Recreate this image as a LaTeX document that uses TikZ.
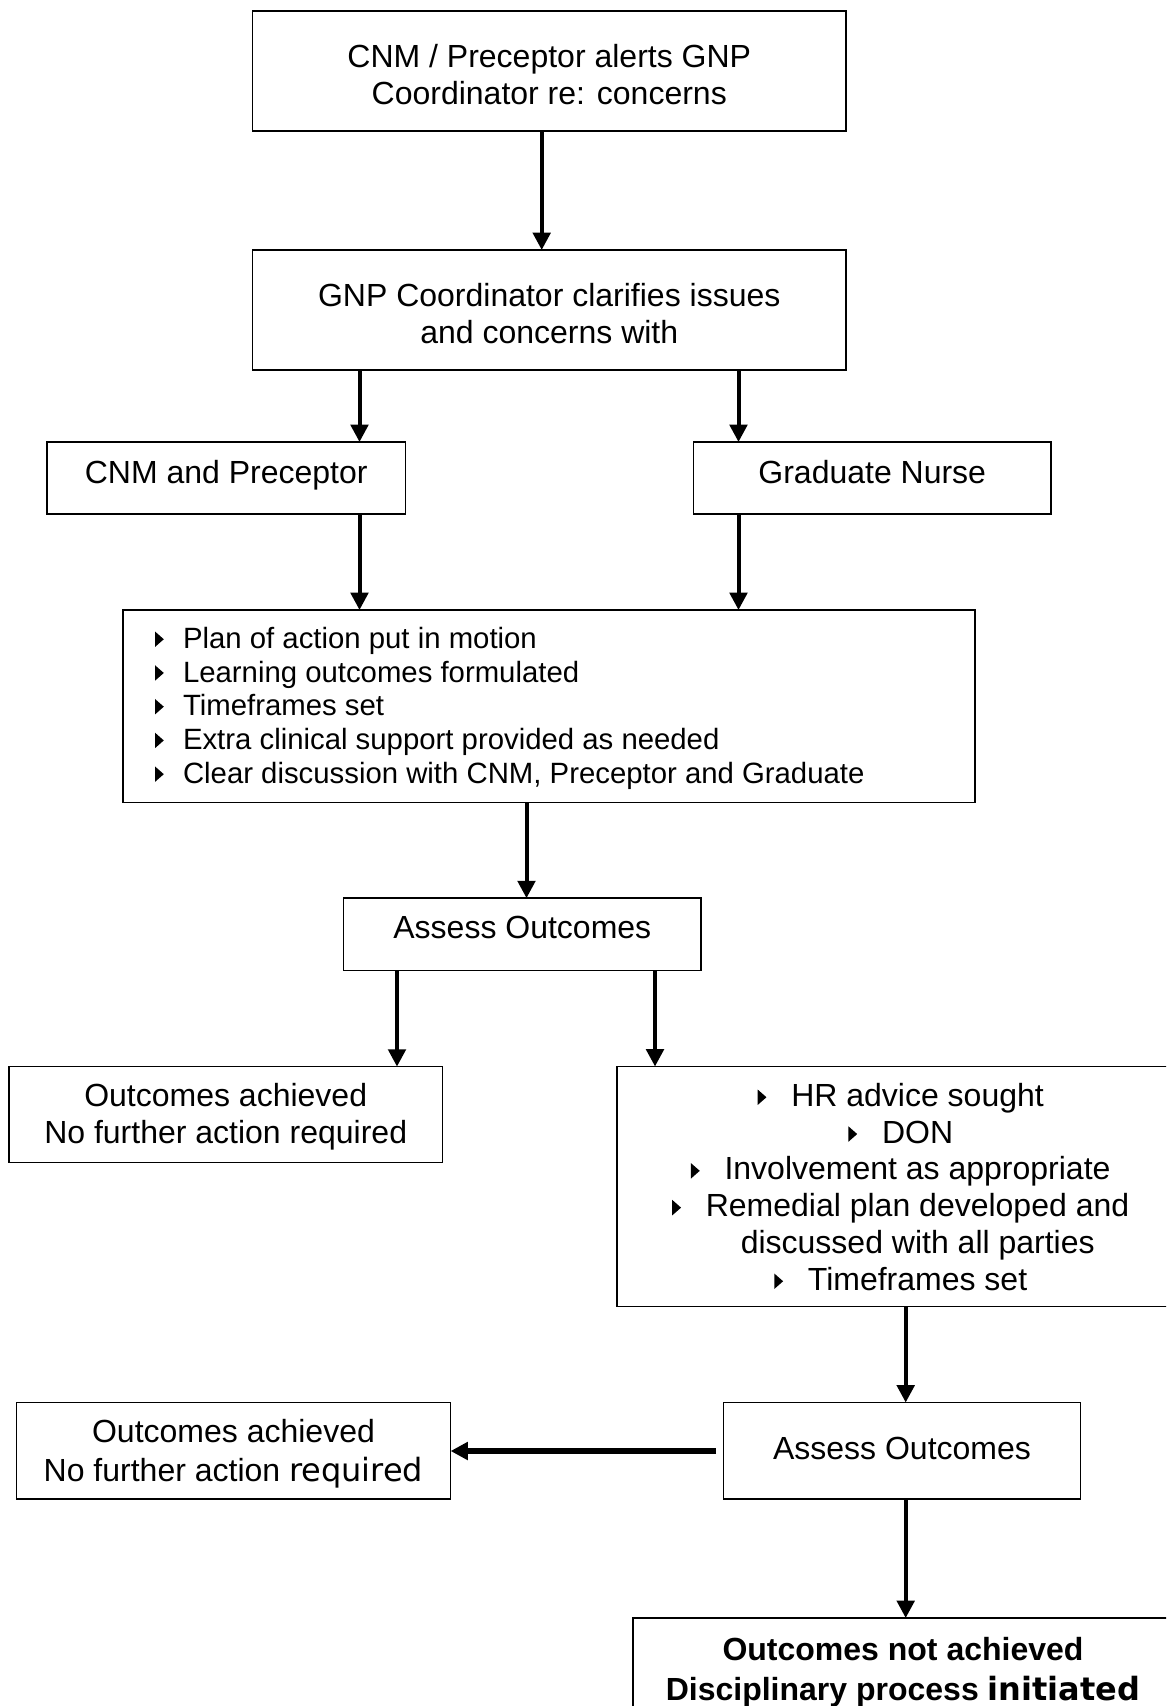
\documentclass[tikz,border=0pt]{standalone}
\usepackage{fontspec}
\setmainfont{Liberation Sans}
\newfontfamily\dvs{DejaVu Sans}
\usetikzlibrary{arrows.meta}
\newcommand\pxu{0.375pt}
\newcommand\tri{\tikz[baseline=0pt]\fill (0pt,0.5pt)--(0pt,6.3pt)--(3.3pt,3.4pt)--cycle;}
\begin{document}
\begin{tikzpicture}[x=0.375pt,y=-0.375pt,
  box/.style={draw,line width=0.5pt,inner sep=0pt,outer sep=0pt,
    font=\fontsize{12}{13.8}\selectfont},
  arr/.style={line width=1.5pt,-{Triangle[length=6.5pt,width=6.5pt]}},
  thickarr/.style={line width=2pt,-{Triangle[length=6.5pt,width=6.5pt]}},
]
\useasboundingbox (0,0) rectangle (1166,1706);
\fill[white] (0,0) rectangle (1166,1706);
\clip (0,0) rectangle (1166,1706);

\node[box,minimum width=593.5*\pxu,minimum height=120*\pxu,
  text height=0pt,text depth=2.55pt] (b1) at (549.25,71)
  {\begin{tabular}[t]{@{}c@{}}CNM / Preceptor alerts GNP\\Coordinator re: concerns\end{tabular}};
\node[box,minimum width=593.5*\pxu,minimum height=120*\pxu,
  text height=0pt,text depth=2.33pt] (b2) at (549.25,310)
  {\begin{tabular}[t]{@{}c@{}}GNP Coordinator clarifies issues\\and concerns with\end{tabular}};
\node[box,minimum width=358.5*\pxu,minimum height=72*\pxu,
  text height=3.83pt,text depth=0pt] (b3) at (226.25,478)
  {CNM and Preceptor};
\node[box,minimum width=357.5*\pxu,minimum height=72*\pxu,
  text height=3.83pt,text depth=0pt] (b4) at (872.25,478)
  {Graduate Nurse};
\node[box,minimum width=852*\pxu,minimum height=192.5*\pxu,
  text height=0pt,text depth=43.46pt,font=\fontsize{11}{12.65}\selectfont] (b5) at (549,706.25)
  {\begin{tabular}[t]{@{}p{295.5pt}@{}}
   \tri\hspace{7.2pt}Plan of action put in motion\\
   \tri\hspace{7.2pt}Learning outcomes formulated\\
   \tri\hspace{7.2pt}Timeframes set\\
   \tri\hspace{7.2pt}Extra clinical support provided as needed\\
   \tri\hspace{7.2pt}Clear discussion with CNM, Preceptor and Graduate\end{tabular}};
\node[box,minimum width=357.5*\pxu,minimum height=72.5*\pxu,
  text height=3.3pt,text depth=0pt] (b6) at (522.3,934.4)
  {Assess Outcomes};
\node[box,minimum width=433.5*\pxu,minimum height=96*\pxu,
  text height=0pt,text depth=6.23pt] (b7) at (225.7,1114.6)
  {\begin{tabular}[t]{@{}c@{}}Outcomes achieved\\No further action required\end{tabular}};
\node[box,minimum width=567.5*\pxu,minimum height=240*\pxu,
  text height=0pt,text depth=60.15pt] (b8) at (900.75,1186.5)
  {\begin{tabular}[t]{@{}c@{}}
   \tri\hspace{9.3pt}HR advice sought\\
   \tri\hspace{9.3pt}DON\\
   \tri\hspace{9.3pt}Involvement as appropriate\\
   \tri\hspace{9.3pt}Remedial plan developed and\\
   \hspace*{12.75pt}discussed with all parties\\
   \tri\hspace{9.3pt}Timeframes set\end{tabular}};
\node[box,minimum width=357*\pxu,minimum height=96.5*\pxu,
  text height=6.79pt,text depth=0pt] (b9) at (902,1450.75)
  {Assess Outcomes};
\node[box,minimum width=434.2*\pxu,minimum height=96.7*\pxu,
  text height=0pt,text depth=6.11pt,font=\fontsize{12}{14.6}\selectfont] (b10) at (233.5,1450.65)
  {\begin{tabular}[t]{@{}c@{}}Outcomes achieved\\No further action {\dvs required}\end{tabular}};
\node[box,line width=0.75pt,minimum width=540*\pxu,minimum height=98*\pxu,
  text height=0pt,text depth=5.25pt,
  font=\fontsize{12}{15}\selectfont\bfseries] (b11) at (903,1667)
  {\begin{tabular}[t]{@{}c@{}}Outcomes not achieved\\Disciplinary process {\dvs initiated}\end{tabular}};

\coordinate (xa) at (541.7,0);
\coordinate (xl) at (359.5,0);
\coordinate (xr) at (738.5,0);
\coordinate (xm) at (526.5,0);
\coordinate (xp) at (397,0);
\coordinate (xq) at (655,0);
\coordinate (xs) at (905.7,0);
\coordinate (la) at (716,1451);

\draw[arr] (b1.south -| xa) -- (b2.north -| xa);
\draw[arr] (b2.south -| xl) -- (b3.north -| xl);
\draw[arr] (b2.south -| xr) -- (b4.north -| xr);
\draw[arr] (b3.south -| xl) -- (b5.north -| xl);
\draw[arr] (b4.south -| xr) -- (b5.north -| xr);
\draw[arr] (b5.south -| xm) -- (b6.north -| xm);
\draw[arr] (b6.south -| xp) -- (b7.north -| xp);
\draw[arr] (b6.south -| xq) -- (b8.north -| xq);
\draw[arr] (b8.south -| xs) -- (b9.north -| xs);
\draw[thickarr] (la) -- (b10.east |- la);
\draw[arr] (b9.south -| xs) -- (b11.north -| xs);
\end{tikzpicture}
\end{document}
